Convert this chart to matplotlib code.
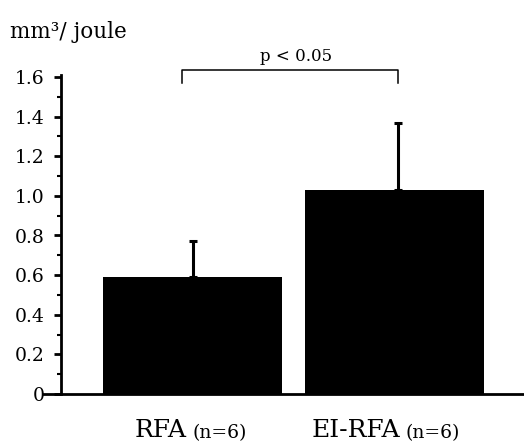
import matplotlib
matplotlib.use("Agg")
import matplotlib.pyplot as plt
import numpy as np

# Data
groups = ["RFA", "EI-RFA"]
group_n = ["(n=6)", "(n=6)"]
means = [0.59, 1.03]
upper_err = [0.18, 0.34]
yticks = [0, 0.2, 0.4, 0.6, 0.8, 1.0, 1.2, 1.4, 1.6]
ytick_labels = ["0", "0.2", "0.4", "0.6", "0.8", "1.0", "1.2", "1.4", "1.6"]
ylabel_text = "mm³/ joule"
sig_text = "p < 0.05"

plt.rcParams['font.family'] = ['DejaVu Serif']

fig = plt.figure(figsize=(5.24, 4.48), dpi=100)
ax = fig.add_axes([61/524, 54/448, 463/524, 317/448])

x = np.arange(len(groups))
ax.bar(x, means, width=0.886, color='black', edgecolor='black', linewidth=0)
ax.errorbar(x + np.array([0.0, 0.017]), means, yerr=[np.zeros(len(means)), upper_err],
            fmt='none', ecolor='black', elinewidth=2.2, capsize=3, capthick=2.2)

ax.set_xlim(-0.651, 1.641)
ax.set_ylim(0, 1.6)
ax.set_yticks(yticks)
ax.set_yticklabels(ytick_labels, fontsize=13.5)
ax.set_yticks(np.arange(0.1, 1.6, 0.2), minor=True)
ax.tick_params(axis='y', which='major', direction='out', length=5, width=2, pad=7)
ax.tick_params(axis='y', which='minor', direction='out', length=3, width=1.5)
ax.set_xticks([])

for s in ['top', 'right', 'bottom']:
    ax.spines[s].set_visible(False)
ax.spines['left'].set_linewidth(2)
ax.spines['left'].set_bounds(0, 1.61)

# x axis line extending slightly left of y axis
ax.plot([-0.04, 1.0], [0, 0], transform=ax.transAxes, color='black', lw=2,
        clip_on=False, solid_capstyle='butt')

# significance bracket
bx0, bx1 = -0.052, 1.017
ytop, yleg = 1.635, 1.57
ax.plot([bx0, bx0, bx1, bx1], [yleg, ytop, ytop, yleg], color='black', lw=1.1,
        clip_on=False)
ax.text((bx0 + bx1) / 2 + 0.03, 1.66, sig_text, ha='center', va='bottom',
        fontsize=12)

# y-axis unit label
fig.text(10/524, 1 - 38/448, ylabel_text, fontsize=15.5, va='baseline', ha='left')

# x category labels
big_left = [-0.285, 0.59]
for i in range(len(groups)):
    t = ax.text(big_left[i], -0.136, groups[i], transform=ax.get_xaxis_transform(),
                ha='left', va='baseline', fontsize=18)
    ax.annotate(group_n[i], xy=(1, 0), xycoords=t, xytext=(4, 0),
                textcoords='offset points', ha='left', va='bottom', fontsize=13.5)

fig.savefig("out.png", dpi=100)
